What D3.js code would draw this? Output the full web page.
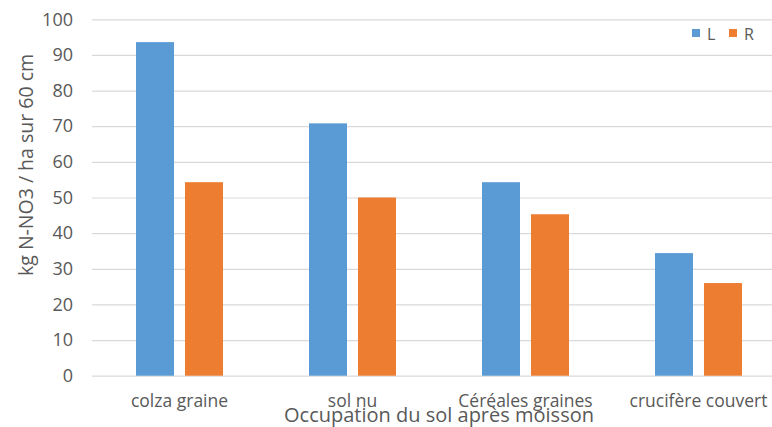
<!DOCTYPE html>
<html><head><meta charset="utf-8">
<script src="https://cdn.jsdelivr.net/npm/d3@7"></script>
<style>body{margin:0;background:#fff}svg{display:block}text{font-family:"Open Sans",sans-serif;fill:#595959}</style>
</head><body>
<svg id="c" width="772" height="427"></svg>
<script>
const categories = ["colza graine", "sol nu", "Céréales graines", "crucifère couvert"];
const seriesNames = ["L", "R"];
const valuesL = [93.6, 70.8, 54.3, 34.4];
const valuesR = [54.3, 50.0, 45.3, 26.0];
const yTicks = [0, 10, 20, 30, 40, 50, 60, 70, 80, 90, 100];
const colors = ["#5b9bd5", "#ed7d31"];
const xTitle = "Occupation du sol après moisson";
const yTitle = "kg N-NO3 / ha sur 60 cm";

(function () {
const svg = d3.select("#c");
const mLeft = 93, mRight = 785, mTop = 19.3, mBottom = 375.7;
const y = d3.scaleLinear().domain([0, 100]).range([mBottom, mTop]);
const x0 = d3.scaleBand().domain(categories).range([mLeft, mRight]).paddingInner(0.497).paddingOuter(0.2485);
const x1 = d3.scaleBand().domain(seriesNames).range([0, x0.bandwidth()]).paddingInner(0.224).paddingOuter(0);
const color = d3.scaleOrdinal().domain(seriesNames).range(colors);

// grid
const yAxis = d3.axisLeft(y).tickValues(yTicks).tickSize(-(772 - 92)).tickPadding(19);
const gy = svg.append("g").attr("transform", `translate(92,0)`).call(yAxis);
gy.select(".domain").remove();
gy.selectAll(".tick line").attr("stroke", "#d9d9d9").attr("stroke-width", 1.2);
gy.selectAll(".tick text").attr("font-size", 18).attr("fill", "#595959").attr("font-family", "Open Sans, sans-serif");

const data = categories.map((c, i) => ({cat: c, vals: [{s: "L", v: valuesL[i]}, {s: "R", v: valuesR[i]}]}));
const g = svg.append("g");
g.selectAll("g.grp").data(data).join("g").attr("class", "grp")
  .attr("transform", d => `translate(${x0(d.cat)},0)`)
  .selectAll("rect").data(d => d.vals).join("rect")
  .attr("x", d => x1(d.s)).attr("width", x1.bandwidth())
  .attr("y", d => y(d.v)).attr("height", d => y(0) - y(d.v))
  .attr("fill", d => color(d.s));

// x axis
const xAxis = d3.axisBottom(x0).tickSize(0).tickPadding(0);
const gx = svg.append("g").attr("transform", `translate(0,${mBottom})`).call(xAxis);
gx.select(".domain").remove();
gx.selectAll(".tick text").attr("font-size", 17.5).attr("fill", "#595959").attr("font-family", "Open Sans, sans-serif").attr("dy", null).attr("y", 31);

svg.append("text").attr("x", (mLeft + mRight) / 2).attr("y", 421.5).attr("text-anchor", "middle")
  .attr("font-size", 20).text(xTitle);
svg.append("text").attr("transform", `translate(33,165) rotate(-90)`).attr("text-anchor", "middle")
  .attr("font-size", 19.5).text(yTitle);

// legend
const lg = svg.append("g");
const lx = [692, 729];
seriesNames.forEach((s, i) => {
  lg.append("rect").attr("x", lx[i]).attr("y", 29).attr("width", 8).attr("height", 8).attr("fill", color(s));
  lg.append("text").attr("x", lx[i] + 15).attr("y", 39.5).attr("font-size", 16).text(s);
});
})();
</script>
</body></html>
